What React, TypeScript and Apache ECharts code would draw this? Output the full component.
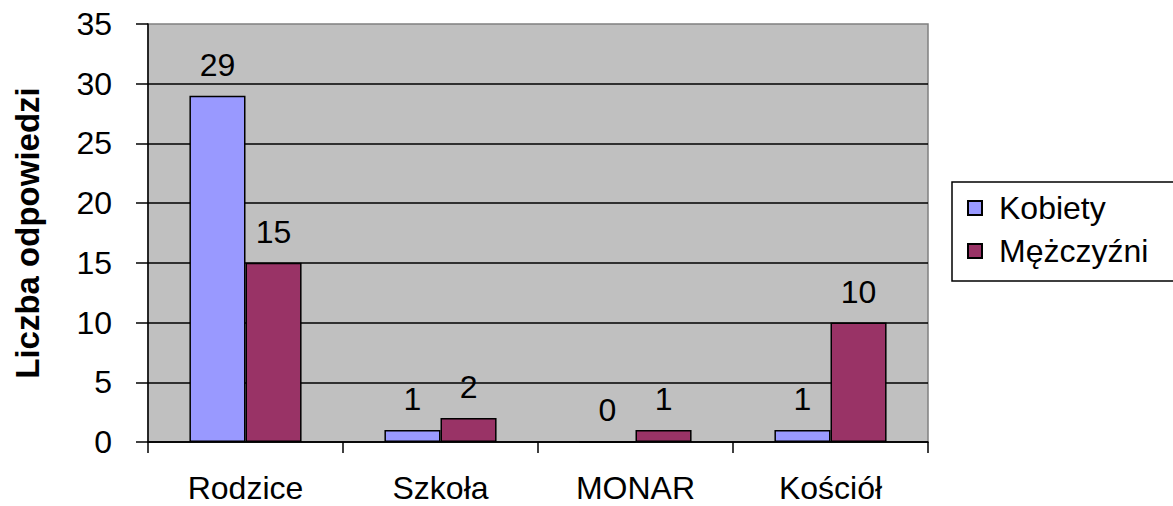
import React, { useEffect, useRef } from "react";
import * as echarts from "echarts";

const categories = ["Rodzice", "Szkoła", "MONAR", "Kościół"];
const kobiety = [29, 1, 0, 1];
const mezczyzni = [15, 2, 1, 10];
const seriesNames = ["Kobiety", "Mężczyźni"];
const yAxisTitle = "Liczba odpowiedzi";

const FONT = "'Liberation Sans', Arial, sans-serif";
const FS = 32;

export default function App() {
  const ref = useRef<HTMLDivElement>(null);
  useEffect(() => {
    if (!ref.current) return;
    const chart = echarts.init(ref.current, null, { renderer: "svg" });
    const labelCfg = {
      show: true,
      position: "top",
      distance: 15,
      color: "#000",
      fontSize: FS,
      fontFamily: FONT,
    };
    chart.setOption({
      animation: false,
      backgroundColor: "#fff",
      textStyle: { fontFamily: FONT },
      grid: {
        left: 148,
        top: 24,
        width: 780,
        height: 418,
        show: true,
        backgroundColor: "#C0C0C0",
        borderColor: "#808080",
        borderWidth: 1.5,
      },
      legend: {
        orient: "vertical",
        left: 952,
        top: 182,
        padding: [10, 30, 14, 15],
        itemGap: 11,
        itemWidth: 14,
        itemHeight: 14,
        icon: "rect",
        borderColor: "#000",
        borderWidth: 1.5,
        textStyle: { color: "#000", fontSize: FS, fontFamily: FONT, padding: [0, 0, 0, 12] },
        data: seriesNames,
      },
      xAxis: {
        type: "category",
        data: categories,
        axisLine: { show: true, lineStyle: { color: "#000", width: 1.5 } },
        axisTick: { show: true, length: 11, alignWithLabel: false, lineStyle: { color: "#000", width: 1.5 } },
        axisLabel: { color: "#000", fontSize: FS, fontFamily: FONT, margin: 30 },
        splitLine: { show: false },
      },
      yAxis: {
        type: "value",
        min: 0,
        max: 35,
        interval: 5,
        name: yAxisTitle,
        nameLocation: "middle",
        nameGap: 104,
        nameTextStyle: { color: "#000", fontSize: 33, fontWeight: "bold", fontFamily: FONT },
        axisLine: { show: true, lineStyle: { color: "#000", width: 1.5 } },
        axisTick: { show: true, length: 12, lineStyle: { color: "#000", width: 1.5 } },
        axisLabel: { color: "#000", fontSize: FS, fontFamily: FONT, margin: 36 },
        splitLine: { show: true, showMaxLine: false, lineStyle: { color: "#000", width: 1.5 } },
      },
      series: [
        {
          name: seriesNames[0],
          type: "bar",
          data: kobiety,
          barGap: "0%",
          barCategoryGap: "42.5%",
          itemStyle: { color: "#9999FF", borderColor: "#000", borderWidth: 1.5 },
          label: labelCfg,
        },
        {
          name: seriesNames[1],
          type: "bar",
          data: mezczyzni,
          barGap: "0%",
          barCategoryGap: "42.5%",
          itemStyle: { color: "#993366", borderColor: "#000", borderWidth: 1.5 },
          label: labelCfg,
        },
      ],
    });
    return () => chart.dispose();
  }, []);
  return (
    <div
      ref={ref}
      style={{ position: "fixed", left: 0, top: 0, width: 1173, height: 506 }}
    />
  );
}
